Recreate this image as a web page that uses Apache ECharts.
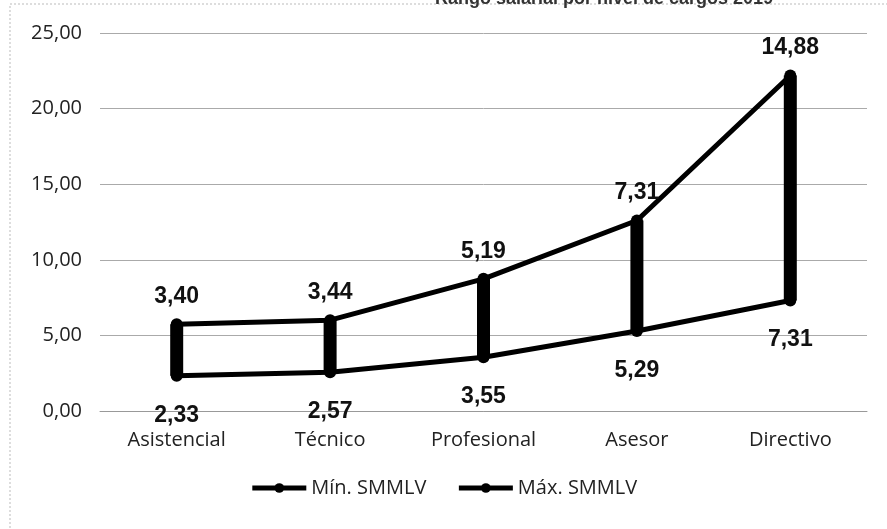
<!DOCTYPE html>
<html>
<head>
<meta charset="utf-8">
<script src="https://cdn.jsdelivr.net/npm/echarts@6/dist/echarts.min.js"></script>
<style>html,body{margin:0;padding:0;background:#fff;}#c{width:887px;height:529px;}</style>
</head>
<body>
<div id="c"></div>
<script>
var categories = ['Asistencial', 'Técnico', 'Profesional', 'Asesor', 'Directivo'];
var minSMMLV = [2.33, 2.57, 3.55, 5.29, 7.31];
var maxSMMLV = [3.40, 3.44, 5.19, 7.31, 14.88]; // stacked on top of the minimum, as in the original
var yTicks = { min: 0, max: 25, interval: 5 };
var titleText = 'Rango salarial por nivel de cargos 2019';

function fmt(v) { return Number(v).toFixed(2).replace('.', ','); }

var chart = echarts.init(document.getElementById('c'), null, { renderer: 'canvas' });
var labelFont = { fontFamily: 'Liberation Sans', fontWeight: 'bold', fontSize: 23, color: '#111' };

chart.setOption({
  animation: false,
  backgroundColor: '#fff',
  graphic: [{
    type: 'rect', shape: { x: 10, y: 4, width: 900, height: 560 },
    style: { fill: 'none', stroke: '#bbb', lineWidth: 1, lineDash: [2, 2] }, silent: true
  }],
  title: {
    text: titleText, left: 430, top: -15,
    textStyle: { fontFamily: 'Liberation Sans', fontWeight: 'bold', fontSize: 18, color: '#333' }
  },
  grid: { left: 100, right: 20, top: 33, bottom: 118 },
  legend: {
    bottom: 26, left: 'center', itemWidth: 54, itemHeight: 12, itemGap: 30,
    lineStyle: { width: 5 },
    textStyle: { fontFamily: 'Open Sans', fontSize: 20, color: '#222' },
    data: ['Mín. SMMLV', 'Máx. SMMLV']
  },
  xAxis: {
    type: 'category', data: categories, boundaryGap: true,
    axisTick: { show: false },
    axisLine: { lineStyle: { color: '#999', width: 1 } },
    axisLabel: { fontFamily: 'Open Sans', fontSize: 20, color: '#222', margin: 19 }
  },
  yAxis: {
    type: 'value', min: yTicks.min, max: yTicks.max, interval: yTicks.interval,
    axisLine: { show: false }, axisTick: { show: false },
    splitLine: { lineStyle: { color: '#aaa', width: 1 } },
    axisLabel: { fontFamily: 'Open Sans', fontSize: 20, color: '#222', margin: 18, formatter: fmt }
  },
  series: [
    {
      name: 'base', type: 'bar', stack: 'hl', data: minSMMLV, barWidth: 13,
      itemStyle: { color: 'transparent' }, silent: true, z: 1
    },
    {
      name: 'range', type: 'bar', stack: 'hl', data: maxSMMLV, barWidth: 13,
      itemStyle: { color: '#000' }, silent: true, z: 1
    },
    {
      name: 'Mín. SMMLV', type: 'line', stack: 'lines', data: minSMMLV,
      symbol: 'circle', symbolSize: 12,
      lineStyle: { color: '#000', width: 5 }, itemStyle: { color: '#000' },
      label: { show: true, position: 'bottom', distance: 22, formatter: function (p) { return fmt(p.value); }, ...labelFont },
      z: 3
    },
    {
      name: 'Máx. SMMLV', type: 'line', stack: 'lines', data: maxSMMLV,
      symbol: 'circle', symbolSize: 12,
      lineStyle: { color: '#000', width: 5 }, itemStyle: { color: '#000' },
      label: { show: true, position: 'top', distance: 10, formatter: function (p) { return fmt(p.value); }, ...labelFont },
      z: 3
    }
  ]
});
</script>
</body>
</html>
